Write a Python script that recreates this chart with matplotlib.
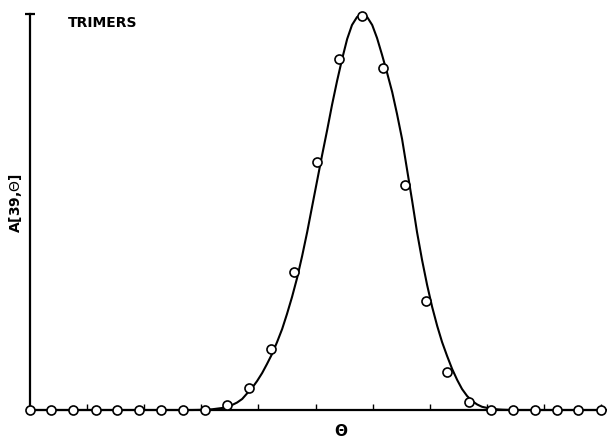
import matplotlib
matplotlib.use('Agg')
import matplotlib.pyplot as plt
import numpy as np

# measured points: theta in units of the sampling step, A scaled to 100 at the peak
theta_points = [0.00, 0.96, 1.96, 3.01, 3.96, 4.96, 5.97, 6.97, 7.97, 8.97,
                9.97, 10.97, 12.02, 13.07, 14.07, 15.12, 16.07, 17.08, 18.03,
                18.99, 19.99, 20.99, 22.00, 23.00, 24.00, 24.95, 26.00]
A_points = [0, 0, 0, 0, 0, 0, 0, 0, 0, 1.3, 5.6, 15.4, 34.8, 62.6, 88.6, 99.5,
            86.4, 56.8, 27.5, 9.6, 2.0, 0, 0, 0, 0, 0, 0]

# calculated curve
theta_curve = [0.00, 7.38, 7.83, 8.29, 8.75, 9.20, 9.43, 9.66, 9.88, 10.11,
               10.34, 10.57, 10.79, 11.02, 11.25, 11.48, 11.70, 11.93, 12.16,
               12.39, 12.62, 12.84, 13.07, 13.30, 13.53, 13.75, 13.98, 14.21,
               14.44, 14.66, 14.89, 15.12, 15.35, 15.58, 15.80, 16.03, 16.26,
               16.49, 16.71, 16.94, 17.17, 17.40, 17.62, 17.85, 18.08, 18.31,
               18.54, 18.76, 18.99, 19.22, 19.45, 19.67, 19.90, 20.13, 20.36,
               20.58, 21.04, 21.50, 21.95, 26.00]
A_curve = [0, 0, 0.04, 0.18, 0.51, 1.26, 1.89, 2.78, 4.17, 5.56,
           7.32, 9.34, 11.62, 14.14, 17.17, 20.45, 24.24, 28.54, 33.33,
           38.89, 44.95, 51.26, 57.83, 64.39, 70.71, 77.02, 83.08, 88.64,
           93.69, 97.22, 99.24, 100.0, 99.24, 97.22, 93.94, 89.65, 85.10,
           80.30, 74.75, 68.43, 60.61, 52.78, 44.95, 37.88, 31.57, 26.01,
           21.21, 17.17, 13.64, 10.35, 7.58, 5.30, 3.54, 2.27, 1.39,
           0.81, 0.25, 0.08, 0, 0]

tick_positions = [2.6 * k for k in range(1, 11)]


def main():
    fig = plt.figure(figsize=(6.07, 4.39), dpi=100)
    ax = fig.add_axes([30 / 607, 28 / 439, 577 / 607, 396 / 439])

    ax.plot(theta_curve, A_curve, color='black', lw=1.5, solid_joinstyle='round',
            clip_on=False, zorder=2)
    ax.plot(theta_points, A_points, 'o', mfc='white', mec='black', ms=6.5,
            mew=1.2, clip_on=False, zorder=3)

    ax.set_xlim(0, 26.27)
    ax.set_ylim(0, 100)

    for side in ['top', 'right']:
        ax.spines[side].set_visible(False)
    ax.spines['left'].set_linewidth(1.6)
    ax.spines['bottom'].set_linewidth(1.6)

    # cap at the top of the A axis
    ax.plot([0], [100], marker='_', color='black', ms=7, mew=1.6, clip_on=False)

    ax.set_xticks(tick_positions)
    ax.set_xticklabels([])
    ax.tick_params(axis='x', direction='in', length=4, width=1, color='black')
    ax.set_yticks([])

    ax.text(1.73, 98, 'TRIMERS', fontsize=10, fontweight='bold',
            ha='left', va='center')

    fig.text(15 / 607, 1 - 203 / 439, r'A[39,$\Theta$]', rotation=90,
             fontsize=10, fontweight='bold', ha='center', va='center')
    fig.text(341 / 607, 1 - 431 / 439, r'$\mathbf{\Theta}$', fontsize=11,
             ha='center', va='center')

    fig.savefig('out.png', dpi=100)


if __name__ == "__main__":
    main()
